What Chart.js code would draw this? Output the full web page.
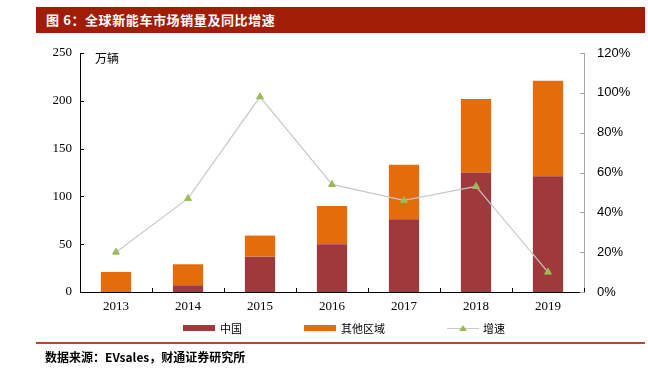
<!DOCTYPE html>
<html lang="zh">
<head>
<meta charset="UTF-8">
<title>全球新能车市场销量及同比增速</title>
<script src="https://cdn.jsdelivr.net/npm/chart.js"></script>
<style>
  body { margin: 0; width: 648px; height: 374px; background: #fff; position: relative; overflow: hidden; font-family: "Noto Sans CJK SC", sans-serif; }
  .title { position: absolute; left: 36px; top: 7px; width: 609px; height: 26px; background: #A11D06; color: #fff; font-weight: bold; font-size: 13px; letter-spacing: 0.6px; line-height: 26px; padding-left: 10px; box-sizing: border-box; }
  #chartBox { position: absolute; left: 0; top: 0; width: 648px; height: 374px; }
  #legend { position: absolute; top: 320px; left: 183px; height: 16px; display: flex; align-items: center; font-size: 11px; color: #000; }
  #legend .item { display: flex; align-items: center; margin-right: 62px; }
  #legend .swatch { width: 32px; height: 6px; margin-right: 5px; }
  #legend canvas { margin-right: 4px; }
  .rule { position: absolute; left: 36px; top: 342px; width: 609px; height: 2px; background: #B5472C; }
  .source { position: absolute; left: 45px; top: 348px; font-size: 12px; font-weight: bold; color: #000; }
</style>
</head>
<body>
  <div class="title">图 6：全球新能车市场销量及同比增速</div>
  <div id="chartBox"><canvas id="salesChart" width="648" height="374"></canvas></div>
  <div id="legend"></div>
  <div class="rule"></div>
  <div class="source">数据来源：EVsales，财通证券研究所</div>

<script>
  // data
  const years = ['2013', '2014', '2015', '2016', '2017', '2018', '2019'];
  const chinaSales = [0, 7, 37, 50, 76, 125, 121];
  const otherSales = [21, 22, 22, 40, 57, 77, 100];
  const growthRate = [20, 47, 98, 54, 46, 53, 10];
  const seriesNames = ['中国', '其他区域', '增速'];
  const unitLabel = '万辆';

  const serif = '"Liberation Serif", "DejaVu Serif", serif';
  const sans = '"Liberation Sans", Arial, sans-serif';

  // small inward tick marks + unit label
  const axisMarks = {
    id: 'axisMarks',
    afterDraw(chart) {
      const ctx = chart.ctx;
      const area = chart.chartArea;
      const x = chart.scales.x, y = chart.scales.y, y1 = chart.scales.y1;
      ctx.save();
      ctx.lineWidth = 1;
      ctx.strokeStyle = '#000';
      ctx.beginPath();
      y.ticks.forEach(t => {
        const py = Math.round(y.getPixelForValue(t.value)) + 0.5;
        ctx.moveTo(area.left, py);
        ctx.lineTo(area.left + 4, py);
      });
      for (let i = 1; i <= years.length; i++) {
        const px = Math.round((x.getPixelForValue(i - 1) + (i < years.length ? x.getPixelForValue(i) : area.right + (area.right - x.getPixelForValue(i - 1)))) / 2) + 0.5;
        ctx.moveTo(px, area.bottom);
        ctx.lineTo(px, area.bottom - 4);
      }
      ctx.stroke();

      ctx.strokeStyle = '#A6A6A6';
      ctx.beginPath();
      y1.ticks.forEach(t => {
        const py = Math.round(y1.getPixelForValue(t.value)) + 0.5;
        ctx.moveTo(area.right - 4, py);
        ctx.lineTo(area.right, py);
      });
      ctx.stroke();

      ctx.fillStyle = '#000';
      ctx.font = '12px "Noto Sans CJK SC"';
      ctx.textBaseline = 'middle';
      ctx.fillText(unitLabel, area.left + 15, area.top + 5);
      ctx.restore();
    }
  };

  const chart = new Chart(document.getElementById('salesChart'), {
    type: 'bar',
    data: {
      labels: years,
      datasets: [
        {
          label: seriesNames[0],
          data: chinaSales,
          backgroundColor: '#A0393B',
          order: 1,
          barPercentage: 0.42,
          categoryPercentage: 1
        },
        {
          label: seriesNames[1],
          data: otherSales,
          backgroundColor: '#E46C0A',
          order: 1,
          barPercentage: 0.42,
          categoryPercentage: 1
        },
        {
          type: 'line',
          label: seriesNames[2],
          data: growthRate,
          yAxisID: 'y1',
          order: 0,
          borderColor: '#C8C8C8',
          borderWidth: 1.2,
          tension: 0,
          pointStyle: 'triangle',
          pointRadius: 4,
          pointBackgroundColor: '#9BBB59',
          pointBorderColor: '#9BBB59',
          pointBorderWidth: 1
        }
      ]
    },
    options: {
      responsive: false,
      animation: false,
      layout: { padding: { top: 53, bottom: 56, left: 0, right: 0 } },
      plugins: {
        legend: { display: false },
        tooltip: { enabled: false }
      },
      scales: {
        x: {
          stacked: true,
          grid: { display: false, drawTicks: false },
          border: { display: true, color: '#000', width: 1 },
          ticks: { color: '#000', font: { family: serif, size: 13 }, padding: 7, maxRotation: 0 },
          afterFit: s => { s.height = 26; }
        },
        y: {
          stacked: true,
          position: 'left',
          min: 0,
          max: 250,
          grid: { display: false, drawTicks: false },
          border: { display: true, color: '#000', width: 1 },
          ticks: { stepSize: 50, color: '#000', font: { family: serif, size: 13 }, padding: 8 },
          afterFit: s => { s.width = 80; }
        },
        y1: {
          position: 'right',
          min: 0,
          max: 120,
          grid: { display: false, drawTicks: false },
          border: { display: true, color: '#A6A6A6', width: 1 },
          ticks: { stepSize: 20, color: '#000', font: { family: sans, size: 13 }, padding: 13, callback: v => v + '%' },
          afterFit: s => { s.width = 64; }
        }
      }
    },
    plugins: [axisMarks]
  });

  // html legend built from the datasets
  const legendBox = document.getElementById('legend');
  chart.data.datasets.forEach(ds => {
    const item = document.createElement('div');
    item.className = 'item';
    if (ds.type === 'line') {
      const c = document.createElement('canvas');
      c.width = 32; c.height = 10;
      const g = c.getContext('2d');
      g.strokeStyle = ds.borderColor;
      g.lineWidth = 1;
      g.beginPath(); g.moveTo(0, 5.5); g.lineTo(32, 5.5); g.stroke();
      g.fillStyle = ds.pointBackgroundColor;
      g.beginPath(); g.moveTo(16, 2); g.lineTo(20, 8); g.lineTo(12, 8); g.closePath(); g.fill();
      item.appendChild(c);
    } else {
      const sw = document.createElement('div');
      sw.className = 'swatch';
      sw.style.background = ds.backgroundColor;
      item.appendChild(sw);
    }
    const txt = document.createElement('span');
    txt.textContent = ds.label;
    item.appendChild(txt);
    legendBox.appendChild(item);
  });
</script>
</body>
</html>
